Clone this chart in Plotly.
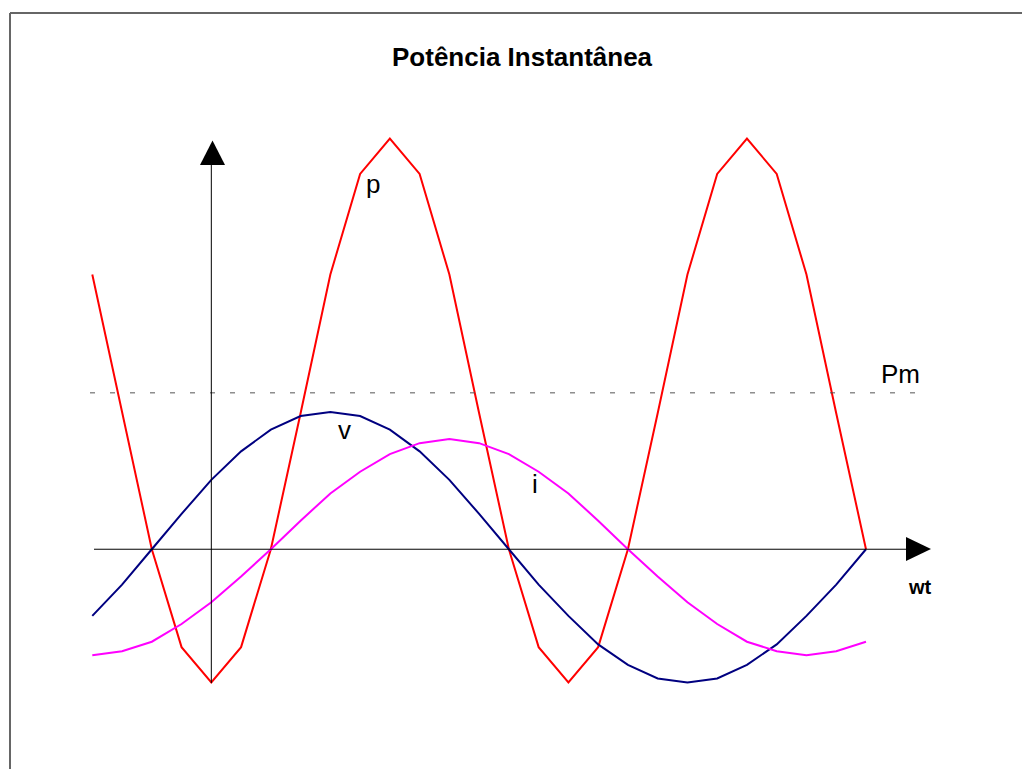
import plotly.graph_objects as go

# ---- data ----
wt_deg = [-60, -45, -30, -15, 0, 15, 30, 45, 60, 75, 90, 105, 120, 135, 150,
          165, 180, 195, 210, 225, 240, 255, 270, 285, 300, 315, 330]
v_vals = [-0.49, -0.26, 0.0, 0.26, 0.51, 0.72, 0.88, 0.98, 1.01, 0.98, 0.88, 0.72, 0.51, 0.26,
          0.0, -0.26, -0.49, -0.70, -0.85, -0.95, -0.98, -0.95, -0.85, -0.70, -0.49, -0.26, 0.0]
i_vals = [-0.78, -0.75, -0.68, -0.55, -0.39, -0.20, 0.0, 0.21, 0.41, 0.57, 0.70, 0.78, 0.81, 0.78,
          0.70, 0.57, 0.41, 0.21, 0.0, -0.20, -0.39, -0.55, -0.68, -0.75, -0.78, -0.75, -0.68]
p_vals = [2.02, 1.0, 0.0, -0.72, -0.98, -0.72, 0.0, 1.0, 2.02, 2.76, 3.02, 2.76, 2.02, 1.0,
          0.0, -0.72, -0.98, -0.72, 0.0, 1.0, 2.02, 2.76, 3.02, 2.76, 2.02, 1.0, 0.0]
pm_value = 1.15

# page body has an 8px margin, so the figure is drawn 8px in from the window edge
OFF = 8
W, H = 1022, 761
X_RANGE = [-102.49, 412.68]
Y_RANGE = [-1.616, 3.980]


def px(x):
    return (x - OFF) / W


def py(y):
    return 1 - (y - OFF) / H


fig = go.Figure()
fig.add_trace(go.Scatter(x=wt_deg, y=p_vals, mode="lines", name="p",
                         line=dict(color="#FF0000", width=2)))
fig.add_trace(go.Scatter(x=wt_deg, y=v_vals, mode="lines", name="v",
                         line=dict(color="#000080", width=2)))
fig.add_trace(go.Scatter(x=wt_deg, y=i_vals, mode="lines", name="i",
                         line=dict(color="#FF00FF", width=2)))

shapes = []
# outer frame (only top and left edges visible)
shapes.append(dict(type="line", xref="paper", yref="paper", x0=px(10), x1=px(1040),
                   y0=py(13), y1=py(13), line=dict(color="#666666", width=2)))
shapes.append(dict(type="line", xref="paper", yref="paper", x0=px(10), x1=px(10),
                   y0=py(13), y1=py(780), line=dict(color="#666666", width=2)))
# Pm dotted line
shapes.append(dict(type="line", xref="paper", yref="y", x0=px(90), x1=px(921),
                   y0=pm_value, y1=pm_value,
                   line=dict(color="#555555", width=1, dash="5px,15px")))
# x axis line + arrow
shapes.append(dict(type="line", xref="paper", yref="y", x0=px(94), x1=px(907),
                   y0=0, y1=0, line=dict(color="#000000", width=1)))
shapes.append(dict(type="path", xref="paper", yref="paper",
                   path=f"M {px(906)} {py(537)} L {px(931)} {py(549)} L {px(906)} {py(561)} Z",
                   fillcolor="#000000", line=dict(color="#000000", width=0)))
# y axis line + arrow
shapes.append(dict(type="line", xref="x", yref="paper", x0=0, x1=0,
                   y0=py(683), y1=py(164), line=dict(color="#000000", width=1)))
shapes.append(dict(type="path", xref="paper", yref="paper",
                   path=f"M {px(200)} {py(165)} L {px(212.5)} {py(140.5)} L {px(225)} {py(165)} Z",
                   fillcolor="#000000", line=dict(color="#000000", width=0)))

ann = []
font_lbl = dict(family="Liberation Sans, Arial, sans-serif", size=26, color="#000000")
ann.append(dict(text="<b>Potência Instantânea</b>", xref="paper", yref="paper",
                x=px(522.5), y=py(57), xanchor="center", yanchor="middle", showarrow=False,
                font=dict(family="Liberation Sans, Arial, sans-serif", size=26, color="#000000")))
ann.append(dict(text="p", xref="paper", yref="paper", x=px(373.3), y=py(184),
                xanchor="center", yanchor="middle", showarrow=False, font=font_lbl))
ann.append(dict(text="v", xref="paper", yref="paper", x=px(344.4), y=py(430.3),
                xanchor="center", yanchor="middle", showarrow=False, font=font_lbl))
ann.append(dict(text="i", xref="paper", yref="paper", x=px(535), y=py(484.3),
                xanchor="center", yanchor="middle", showarrow=False, font=font_lbl))
ann.append(dict(text="Pm", xref="paper", yref="paper", x=px(900.8), y=py(374.3),
                xanchor="center", yanchor="middle", showarrow=False, font=font_lbl))
ann.append(dict(text="<b>wt</b>", xref="paper", yref="paper", x=px(920.3), y=py(587.4),
                xanchor="center", yanchor="middle", showarrow=False,
                font=dict(family="Liberation Sans, Arial, sans-serif", size=20, color="#000000")))

fig.update_layout(
    width=W, height=H,
    margin=dict(l=0, r=0, t=0, b=0),
    paper_bgcolor="#FFFFFF", plot_bgcolor="#FFFFFF",
    showlegend=False,
    xaxis=dict(range=X_RANGE, visible=False, fixedrange=True),
    yaxis=dict(range=Y_RANGE, visible=False, fixedrange=True),
    shapes=shapes, annotations=ann,
)

fig.write_html("out.html")
